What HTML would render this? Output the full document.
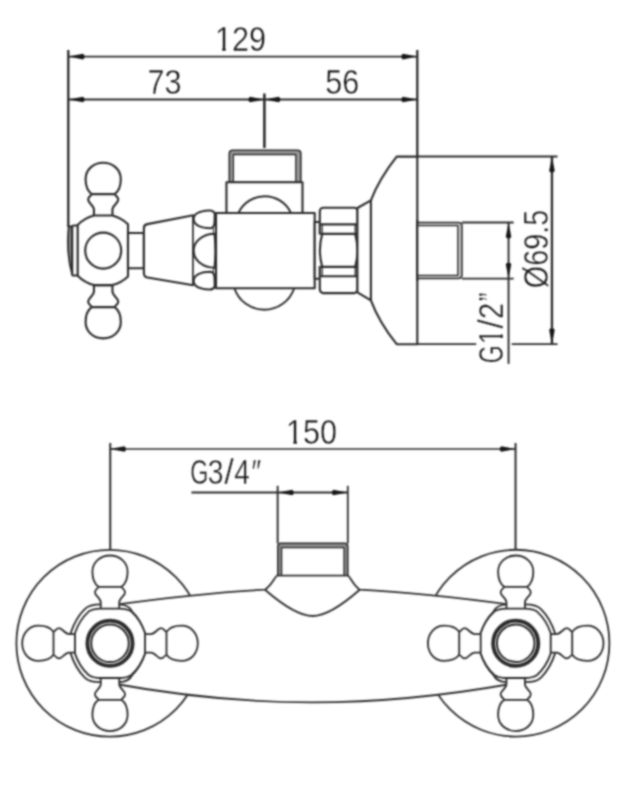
<!DOCTYPE html>
<html><head><meta charset="utf-8"><style>
html,body{margin:0;padding:0;background:#fff;}
svg{display:block;}
</style></head><body>
<svg width="629" height="800" viewBox="0 0 629 800">
<defs><filter id="b" color-interpolation-filters="sRGB" filterUnits="userSpaceOnUse" x="0" y="0" width="629" height="800"><feConvolveMatrix order="5" kernelMatrix="1 6 12 6 1 6 36 72 36 6 12 72 144 72 12 6 36 72 36 6 1 6 12 6 1" divisor="676" edgeMode="duplicate"/></filter></defs>
<g filter="url(#b)" fill="#fff" stroke="#2a2a2a" stroke-linejoin="round" stroke-linecap="butt">
<rect width="629" height="800" fill="#fff" stroke="none"/>
<g stroke-width="2.3">
<line x1="68.3" y1="50" x2="68.3" y2="227" stroke-width="2.35"/>
<line x1="264.4" y1="93.5" x2="264.4" y2="148" stroke-width="2.6"/>
<line x1="417.3" y1="50" x2="417.3" y2="157"/>
<line x1="68.6" y1="56.6" x2="417.3" y2="56.6" stroke-width="1.9"/>
<path d="M68.60,56.60 L83.10,53.80 Q86.30,56.60 83.10,59.40 Z" fill="#151515" stroke="none"/>
<path d="M417.30,56.60 L402.80,59.40 Q399.60,56.60 402.80,53.80 Z" fill="#151515" stroke="none"/>
<line x1="68.6" y1="99.55" x2="417.3" y2="99.55" stroke-width="1.9"/>
<path d="M68.60,99.55 L83.10,96.75 Q86.30,99.55 83.10,102.35 Z" fill="#151515" stroke="none"/>
<path d="M264.40,99.55 L249.90,102.35 Q246.70,99.55 249.90,96.75 Z" fill="#151515" stroke="none"/>
<path d="M264.40,99.55 L278.90,96.75 Q282.10,99.55 278.90,102.35 Z" fill="#151515" stroke="none"/>
<path d="M417.30,99.55 L402.80,102.35 Q399.60,99.55 402.80,96.75 Z" fill="#151515" stroke="none"/>
</g>
<g stroke-width="2.1">
<g transform="translate(103.2,250.6)"><path d="M-9.25,-34.5 L-9.25,-41 C-9.25,-45 -15.1,-47.5 -15.1,-51 C-15.1,-54 -11.5,-55.3 -11.5,-56.5 C-15,-59 -17.6,-65 -17.6,-71.5 C-17.6,-81 -9.8,-87.8 0,-87.8 C9.8,-87.8 17.6,-81 17.6,-71.5 C17.6,-65 15,-59 11.5,-56.5 C11.5,-55.3 15.1,-54 15.1,-51 C15.1,-47.5 9.25,-45 9.25,-41 L9.25,-34.5 Z M-11.5,-56.5 L11.5,-56.5"/><path d="M-9.25,-34.5 L-9.25,-41 C-9.25,-45 -15.1,-47.5 -15.1,-51 C-15.1,-54 -11.5,-55.3 -11.5,-56.5 C-15,-59 -17.6,-65 -17.6,-71.5 C-17.6,-81 -9.8,-87.8 0,-87.8 C9.8,-87.8 17.6,-81 17.6,-71.5 C17.6,-65 15,-59 11.5,-56.5 C11.5,-55.3 15.1,-54 15.1,-51 C15.1,-47.5 9.25,-45 9.25,-41 L9.25,-34.5 Z M-11.5,-56.5 L11.5,-56.5" transform="rotate(180)"/></g>
<path d="M68.7,226.5 C67.6,238 67.4,258 72.2,274.5 L72.2,226.5 Z" fill="#8a8a8a" stroke-width="1.8"/>
<rect x="72.2" y="225.5" width="5.8" height="50" rx="1.5"/>
<path d="M77.7,224.9 A36,36 0 0 1 93.95,215.5 L112.45,215.5 A36,36 0 0 1 128,224.2 L128,276.4 A36,36 0 0 1 112.45,285.1 L93.95,285.1 A36,36 0 0 1 77.7,275.7 Z"/>
<circle cx="103.2" cy="250.6" r="18"/>
<rect x="128" y="233" width="15.9" height="35.2"/>
<path d="M143.9,228 Q143.9,224.6 147.4,224.1 L193.2,215.2 L193.2,285.2 L147.4,277.5 Q143.9,277 143.9,273 Z"/>
<path d="M193,215 L193,285.2 L211,289.5 L216,289 L216,210.5 L211,210 Z" stroke="none"/>
<line x1="193.2" y1="215" x2="193.2" y2="285.2" stroke-width="1.2"/>
<line x1="213.4" y1="226" x2="213.4" y2="274" stroke-width="1.0"/>
<path d="M193.6,219 C193.6,213.5 201,211 209,210.5 Q213.5,210.3 214.8,213.5 L214.6,222 Q214.3,228 210.5,228.2 C201,228.2 193.6,225 193.6,219 Z"/>
<path d="M193.6,281 C193.6,286.5 201,289 209,289.5 Q213.5,289.7 214.8,286.5 L214.6,278 Q214.3,272 210.5,271.8 C201,271.8 193.6,275 193.6,281 Z"/>
<path d="M214.6,233.8 A21,16.95 0 0 0 214.6,267.7 Q216.2,250.75 214.6,233.8 Z"/>
<path d="M229.3,182.2 L229.3,153.5 Q229.3,150.2 232.8,150.2 L297.3,150.2 Q300.8,150.2 300.8,153.5 L300.8,182.2 Z" fill="#999" stroke-width="1.6"/>
<rect x="233.4" y="154.5" width="62.4" height="27.7" stroke-width="1.3"/>
<rect x="226.45" y="182.2" width="76.05" height="30.8"/>
<path d="M238.6,212.6 A29,29 0 0 1 290.8,212.6"/>
<path d="M234.4,288.2 A31.5,31.5 0 0 0 294.2,288.2" stroke-width="1.9"/>
<rect x="216" y="213" width="98.7" height="75.2"/>
<rect x="314.7" y="222" width="5.2" height="56.7"/>
<rect x="319.8" y="207.8" width="37.8" height="85.3" rx="3.5"/>
<rect x="317" y="234.6" width="44" height="31.5" stroke="none"/>
<path d="M322.2,233.9 Q317.6,250.4 322.2,266.9 M355.2,233.9 Q359.8,250.4 355.2,266.9" fill="none"/>
<path d="M320.5,224.4 L356.8,224.4 M320.5,233.9 L356.8,233.9 M320.5,266.9 L356.8,266.9 M320.5,276.3 L356.8,276.3"/>
<path d="M322.2,224.4 L322.2,233.9 M355.2,224.4 L355.2,233.9 M322.2,266.9 L322.2,276.3 M355.2,266.9 L355.2,276.3" stroke-width="1.3"/>
<path d="M357.4,208 L370.9,200.3 Q379,179 396.7,156.6 L417.3,156.6 L417.3,344.2 L396.7,344.2 Q379,322 370.9,300.3 L357.4,292.3 Z M370.9,200.3 L370.9,300.3"/>
<path d="M417.3,222.5 L458.3,222.5 Q462,222.5 462,225.9 L462,275.1 Q462,278.6 458.3,278.6 L417.3,278.6 Z" fill="#c0c0c0" stroke-width="1.5"/>
<path d="M417.3,225.6 L457.8,225.6 L457.8,275.4 L417.3,275.4 Z" stroke-width="1.3"/>
<line x1="417.3" y1="220" x2="417.3" y2="281"/>
</g>
<g stroke-width="2.3">
<line x1="417.3" y1="156.6" x2="557.5" y2="156.6" stroke-width="2.0"/>
<line x1="417.3" y1="344.2" x2="476.2" y2="344.2" stroke-width="1.75"/>
<line x1="511.7" y1="344.2" x2="557.5" y2="344.2" stroke-width="1.75"/>
<line x1="462" y1="222.5" x2="513.7" y2="222.5" stroke-width="2.0"/>
<line x1="462" y1="278.6" x2="513.7" y2="278.6" stroke-width="1.85"/>
<line x1="551.95" y1="156.6" x2="551.95" y2="344.2"/>
<path d="M551.95,156.60 L554.75,171.10 Q551.95,174.30 549.15,171.10 Z" fill="#151515" stroke="none"/>
<path d="M551.95,344.20 L549.15,329.70 Q551.95,326.50 554.75,329.70 Z" fill="#151515" stroke="none"/>
<line x1="508.55" y1="222.5" x2="508.55" y2="363.9" stroke-width="1.9"/>
<path d="M508.55,222.50 L511.35,237.00 Q508.55,240.20 505.75,237.00 Z" fill="#151515" stroke="none"/>
<path d="M508.55,278.60 L505.75,264.10 Q508.55,260.90 511.35,264.10 Z" fill="#151515" stroke="none"/>
</g>
<g stroke-width="2.3">
<line x1="110.25" y1="443" x2="110.25" y2="550" stroke-width="2.0"/>
<line x1="515.55" y1="443" x2="515.55" y2="550" stroke-width="2.0"/>
<line x1="110.0" y1="449.0" x2="515.7" y2="449.0" stroke-width="1.7"/>
<path d="M110.00,449.00 L124.50,446.20 Q127.70,449.00 124.50,451.80 Z" fill="#151515" stroke="none"/>
<path d="M515.70,449.00 L501.20,451.80 Q498.00,449.00 501.20,446.20 Z" fill="#151515" stroke="none"/>
<line x1="191.4" y1="492.45" x2="347.8" y2="492.45" stroke-width="2.1"/>
<path d="M277.80,492.45 L292.30,489.65 Q295.50,492.45 292.30,495.25 Z" fill="#151515" stroke="none"/>
<path d="M347.80,492.45 L333.30,495.25 Q330.10,492.45 333.30,489.65 Z" fill="#151515" stroke="none"/>
<line x1="277.65" y1="485.8" x2="277.65" y2="543.5" stroke-width="1.9"/>
<line x1="347.8" y1="485.8" x2="347.8" y2="543.5" stroke-width="1.75"/>
</g>
<g stroke-width="1.8">
<circle cx="109.8" cy="643.25" r="93.4"/>
<circle cx="516" cy="643.15" r="93.4"/>
<path d="M110,605.5 C160,598.5 220,592 265,589.7 C272,585 274,578 277.3,575.4 L347.8,575.4 C351,578 353,585 359.7,589.7 C405,592 465,598.5 516,605.5 L516,683 C450,695 380,702.4 312.7,702.4 C245,702.4 175,695 110,683 Z"/>
<path d="M265,589.7 C285,607 300,616 312.7,616 C325,616 340,607 359.7,589.7" fill="none"/>
<path d="M277.8,575.4 L277.8,546.5 Q277.8,543.2 281.1,543.2 L344.5,543.2 Q347.8,543.2 347.8,546.5 L347.8,575.4 Z" fill="#8a8a8a" stroke-width="1.5"/>
<rect x="281.6" y="547.6" width="62.4" height="27.8" stroke-width="1.3"/>
<g transform="translate(110.0,643.3) scale(1,1)"><path d="M-39.3,-10.3 Q-34.5,-25 -25.5,-34 Q-21,-38.9 -9.3,-38.9 L9.3,-38.9 Q19,-38.5 22.2,-31.7 Q30.6,-23.3 35,-10.3 L35,10.3 Q30.6,23.3 22.2,31.7 Q19,38.5 9.3,38.9 L-9.3,38.9 Q-21,38.9 -25.5,34 Q-34.5,25 -39.3,10.3 Z"/><path d="M-9.25,-34.5 L-9.25,-41 C-9.25,-45 -15.1,-47.5 -15.1,-51 C-15.1,-54 -11.5,-55.3 -11.5,-56.5 C-15,-59 -17.6,-65 -17.6,-71.5 C-17.6,-81 -9.8,-87.8 0,-87.8 C9.8,-87.8 17.6,-81 17.6,-71.5 C17.6,-65 15,-59 11.5,-56.5 C11.5,-55.3 15.1,-54 15.1,-51 C15.1,-47.5 9.25,-45 9.25,-41 L9.25,-34.5 Z M-11.5,-56.5 L11.5,-56.5" transform="rotate(0)"/><path d="M-9.25,-34.5 L-9.25,-41 C-9.25,-45 -15.1,-47.5 -15.1,-51 C-15.1,-54 -11.5,-55.3 -11.5,-56.5 C-15,-59 -17.6,-65 -17.6,-71.5 C-17.6,-81 -9.8,-87.8 0,-87.8 C9.8,-87.8 17.6,-81 17.6,-71.5 C17.6,-65 15,-59 11.5,-56.5 C11.5,-55.3 15.1,-54 15.1,-51 C15.1,-47.5 9.25,-45 9.25,-41 L9.25,-34.5 Z M-11.5,-56.5 L11.5,-56.5" transform="rotate(90)"/><path d="M-9.25,-34.5 L-9.25,-41 C-9.25,-45 -15.1,-47.5 -15.1,-51 C-15.1,-54 -11.5,-55.3 -11.5,-56.5 C-15,-59 -17.6,-65 -17.6,-71.5 C-17.6,-81 -9.8,-87.8 0,-87.8 C9.8,-87.8 17.6,-81 17.6,-71.5 C17.6,-65 15,-59 11.5,-56.5 C11.5,-55.3 15.1,-54 15.1,-51 C15.1,-47.5 9.25,-45 9.25,-41 L9.25,-34.5 Z M-11.5,-56.5 L11.5,-56.5" transform="rotate(180)"/><path d="M-9.25,-34.5 L-9.25,-41 C-9.25,-45 -15.1,-47.5 -15.1,-51 C-15.1,-54 -11.5,-55.3 -11.5,-56.5 C-15,-59 -17.6,-65 -17.6,-71.5 C-17.6,-81 -9.8,-87.8 0,-87.8 C9.8,-87.8 17.6,-81 17.6,-71.5 C17.6,-65 15,-59 11.5,-56.5 C11.5,-55.3 15.1,-54 15.1,-51 C15.1,-47.5 9.25,-45 9.25,-41 L9.25,-34.5 Z M-11.5,-56.5 L11.5,-56.5" transform="rotate(270)"/><path d="M-35,-10.3 Q-30.6,-23.3 -21.4,-31.7 Q-17,-34.7 -9.3,-34.7 L9.3,-34.7 Q17,-34.7 21.4,-31.7 Q30.6,-23.3 35,-10.3 L35,10.3 Q30.6,23.3 21.4,31.7 Q17,34.7 9.3,34.7 L-9.3,34.7 Q-17,34.7 -21.4,31.7 Q-30.6,23.3 -35,10.3 Z"/><circle r="22.6" stroke-width="3.8"/><circle r="18.8" stroke-width="2.0"/></g>
<g transform="translate(515.7,643.3) scale(-1,1)"><path d="M-39.3,-10.3 Q-34.5,-25 -25.5,-34 Q-21,-38.9 -9.3,-38.9 L9.3,-38.9 Q19,-38.5 22.2,-31.7 Q30.6,-23.3 35,-10.3 L35,10.3 Q30.6,23.3 22.2,31.7 Q19,38.5 9.3,38.9 L-9.3,38.9 Q-21,38.9 -25.5,34 Q-34.5,25 -39.3,10.3 Z"/><path d="M-9.25,-34.5 L-9.25,-41 C-9.25,-45 -15.1,-47.5 -15.1,-51 C-15.1,-54 -11.5,-55.3 -11.5,-56.5 C-15,-59 -17.6,-65 -17.6,-71.5 C-17.6,-81 -9.8,-87.8 0,-87.8 C9.8,-87.8 17.6,-81 17.6,-71.5 C17.6,-65 15,-59 11.5,-56.5 C11.5,-55.3 15.1,-54 15.1,-51 C15.1,-47.5 9.25,-45 9.25,-41 L9.25,-34.5 Z M-11.5,-56.5 L11.5,-56.5" transform="rotate(0)"/><path d="M-9.25,-34.5 L-9.25,-41 C-9.25,-45 -15.1,-47.5 -15.1,-51 C-15.1,-54 -11.5,-55.3 -11.5,-56.5 C-15,-59 -17.6,-65 -17.6,-71.5 C-17.6,-81 -9.8,-87.8 0,-87.8 C9.8,-87.8 17.6,-81 17.6,-71.5 C17.6,-65 15,-59 11.5,-56.5 C11.5,-55.3 15.1,-54 15.1,-51 C15.1,-47.5 9.25,-45 9.25,-41 L9.25,-34.5 Z M-11.5,-56.5 L11.5,-56.5" transform="rotate(90)"/><path d="M-9.25,-34.5 L-9.25,-41 C-9.25,-45 -15.1,-47.5 -15.1,-51 C-15.1,-54 -11.5,-55.3 -11.5,-56.5 C-15,-59 -17.6,-65 -17.6,-71.5 C-17.6,-81 -9.8,-87.8 0,-87.8 C9.8,-87.8 17.6,-81 17.6,-71.5 C17.6,-65 15,-59 11.5,-56.5 C11.5,-55.3 15.1,-54 15.1,-51 C15.1,-47.5 9.25,-45 9.25,-41 L9.25,-34.5 Z M-11.5,-56.5 L11.5,-56.5" transform="rotate(180)"/><path d="M-9.25,-34.5 L-9.25,-41 C-9.25,-45 -15.1,-47.5 -15.1,-51 C-15.1,-54 -11.5,-55.3 -11.5,-56.5 C-15,-59 -17.6,-65 -17.6,-71.5 C-17.6,-81 -9.8,-87.8 0,-87.8 C9.8,-87.8 17.6,-81 17.6,-71.5 C17.6,-65 15,-59 11.5,-56.5 C11.5,-55.3 15.1,-54 15.1,-51 C15.1,-47.5 9.25,-45 9.25,-41 L9.25,-34.5 Z M-11.5,-56.5 L11.5,-56.5" transform="rotate(270)"/><path d="M-35,-10.3 Q-30.6,-23.3 -21.4,-31.7 Q-17,-34.7 -9.3,-34.7 L9.3,-34.7 Q17,-34.7 21.4,-31.7 Q30.6,-23.3 35,-10.3 L35,10.3 Q30.6,23.3 21.4,31.7 Q17,34.7 9.3,34.7 L-9.3,34.7 Q-17,34.7 -21.4,31.7 Q-30.6,23.3 -35,10.3 Z"/><circle r="22.6" stroke-width="3.8"/><circle r="18.8" stroke-width="2.0"/></g>
</g>
<g transform="translate(240.4,51.2) scale(0.85,1)"><text fill="#151515" stroke="#fff" stroke-width="0.45" font-family="Liberation Sans, sans-serif" font-size="36" text-anchor="middle">129</text><path d="M-28.54,-3.6 H-21.44 V1 H-28.54 Z M-17.24,-3.6 H-10.24 V1 H-17.24 Z" fill="#fff" stroke="none"/></g>
<g transform="translate(164.6,94.2) scale(0.85,1)"><text fill="#151515" stroke="#fff" stroke-width="0.45" font-family="Liberation Sans, sans-serif" font-size="36" text-anchor="middle">73</text></g>
<g transform="translate(342.3,94.4) scale(0.85,1)"><text fill="#151515" stroke="#fff" stroke-width="0.45" font-family="Liberation Sans, sans-serif" font-size="36" text-anchor="middle">56</text></g>
<g transform="translate(311.6,443.7) scale(0.85,1)"><text fill="#151515" stroke="#fff" stroke-width="0.45" font-family="Liberation Sans, sans-serif" font-size="36" text-anchor="middle">150</text><path d="M-28.54,-3.6 H-21.44 V1 H-28.54 Z M-17.24,-3.6 H-10.24 V1 H-17.24 Z" fill="#fff" stroke="none"/></g>
<g transform="translate(199.3,484.0) scale(0.677,1)"><text fill="#151515" stroke="#fff" stroke-width="0.45" font-family="Liberation Sans, sans-serif" font-size="34.5" text-anchor="middle">G</text></g>
<g transform="translate(215.6,484.0) scale(0.82,1)"><text fill="#151515" stroke="#fff" stroke-width="0.45" font-family="Liberation Sans, sans-serif" font-size="34.5" text-anchor="middle">3</text></g>
<g transform="translate(229.15,484.0) scale(1.0,1)"><text fill="#151515" stroke="#fff" stroke-width="0.45" font-family="Liberation Sans, sans-serif" font-size="34.5" text-anchor="middle">/</text></g>
<g transform="translate(242.0,484.0) scale(0.81,1)"><text fill="#151515" stroke="#fff" stroke-width="0.45" font-family="Liberation Sans, sans-serif" font-size="34.5" text-anchor="middle">4</text></g>
<g transform="translate(256.3,484.0) scale(0.79,1)"><text fill="#151515" stroke="#fff" stroke-width="0.45" font-family="Liberation Sans, sans-serif" font-size="34.5" text-anchor="middle">&#8243;</text></g>
<g transform="translate(547.5,249) rotate(-90) scale(0.8,1)"><text fill="#151515" stroke="#fff" stroke-width="0.45" font-family="Liberation Sans, sans-serif" font-size="36" text-anchor="middle">&#216;69.5</text></g>
<g transform="translate(503.3,354.2) rotate(-90) scale(0.664,1)"><text fill="#151515" stroke="#fff" stroke-width="0.45" font-family="Liberation Sans, sans-serif" font-size="34.6" text-anchor="middle">G</text></g>
<g transform="translate(503.3,336.85) rotate(-90) scale(0.8,1)"><text fill="#151515" stroke="#fff" stroke-width="0.45" font-family="Liberation Sans, sans-serif" font-size="34.6" text-anchor="middle">1</text><path d="M-8.51,-3.6 H-1.41 V1 H-8.51 Z M2.79,-3.6 H9.79 V1 H2.79 Z" fill="#fff" stroke="none"/></g>
<g transform="translate(503.3,323.9) rotate(-90) scale(1.0,1)"><text fill="#151515" stroke="#fff" stroke-width="0.45" font-family="Liberation Sans, sans-serif" font-size="34.6" text-anchor="middle">/</text></g>
<g transform="translate(503.3,311.05) rotate(-90) scale(0.84,1)"><text fill="#151515" stroke="#fff" stroke-width="0.45" font-family="Liberation Sans, sans-serif" font-size="34.6" text-anchor="middle">2</text></g>
<g transform="translate(503.3,297.0) rotate(-90) scale(0.75,1)"><text fill="#151515" stroke="#fff" stroke-width="0.45" font-family="Liberation Sans, sans-serif" font-size="34.6" text-anchor="middle">&#8221;</text></g>
</g>
</svg>
</body></html>
